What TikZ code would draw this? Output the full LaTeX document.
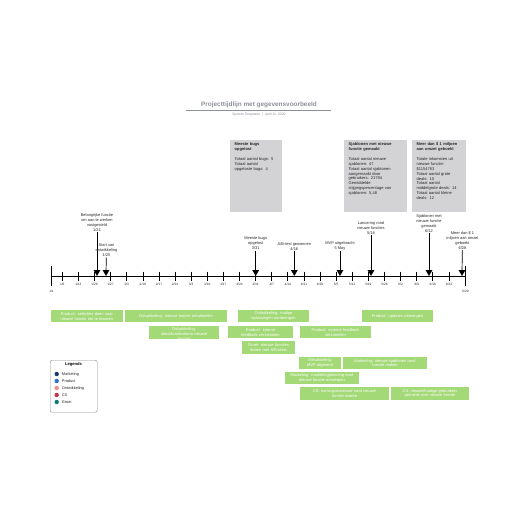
\documentclass[tikz,border=0pt]{standalone}
\usepackage{fontspec}
\setmainfont{Liberation Sans}
\usetikzlibrary{shapes.geometric}
\definecolor{gbarfill}{HTML}{A3D977}
\definecolor{gboxfill}{HTML}{D3D3D6}
\definecolor{titlegray}{HTML}{8C9099}
\definecolor{cmark}{HTML}{1B3A6B}
\definecolor{cprod}{HTML}{2F6FD0}
\definecolor{contw}{HTML}{F28B8B}
\definecolor{ccs}{HTML}{C2334B}
\definecolor{cgroei}{HTML}{0E7C7B}
\begin{document}
\begin{tikzpicture}[x=1pt,y=-1pt,
  lbl/.style={font=\fontsize{3.95}{4.9}\selectfont, align=center, inner sep=0.6pt, text=black!85},
  mk/.style={regular polygon, regular polygon sides=3, shape border rotate=180, fill=black, minimum size=8pt, inner sep=0pt},
  conn/.style={line width=0.7pt, black},
  axisline/.style={line width=0.7pt, black},
  ticklbl/.style={font=\fontsize{3.2}{3.8}\selectfont, inner sep=0pt, text=black!85},
  gbar/.style={fill=gbarfill, draw=none, text=white, align=center, inner sep=0pt, font=\fontsize{4}{4.8}\selectfont},
  gbox/.style={fill=gboxfill, draw=none, anchor=north west, inner sep=0pt},
  gboxtext/.style={anchor=north west, align=left, inner sep=0pt, font=\fontsize{4.05}{4.9}\selectfont, text=black!85},
  legtext/.style={font=\fontsize{3.9}{4.5}\selectfont, anchor=west, inner sep=0pt, text=black!85}
]
\useasboundingbox (0,0) rectangle (516,516);
\fill[white] (0,0) rectangle (516,516);

% Title
\node[font=\bfseries\fontsize{6.4}{7.5}\selectfont, text=titlegray, inner sep=0pt] (title) at (259,104.5) {Projecttijdlijn met gegevensvoorbeeld};
\draw[titlegray, line width=0.8pt] (186,110) -- (331,110);
\node[font=\fontsize{3.4}{4}\selectfont, text=titlegray, inner sep=0pt] (subtitle) at (259,114.5) {System Templates \;|\; April 11, 2020};

% Gray info boxes
\node[gbox, minimum width=52pt, minimum height=72pt] (b1) at (230,140) {};
\node[gboxtext, text width=48pt] (b1t) at (234.5,142.5) {\textbf{Meeste bugs\\opgelost}\\[4.9pt]Totaal aantal bugs: 5\\Totaal aantal\\opgeloste bugs: 4};
\node[gbox, minimum width=63pt, minimum height=72pt] (b2) at (344,140) {};
\node[gboxtext, text width=58pt] (b2t) at (348.5,142.5) {\textbf{Sjablonen met nieuwe\\functie gemaakt}\\[4.9pt]Totaal aantal nieuwe\\sjablonen: 47\\Totaal aantal sjablonen\\aangemaakt door\\gebruikers: 21794\\Gemiddelde\\stijgingspercentage van\\sjablonen: 5,48};
\node[gbox, minimum width=54pt, minimum height=72pt] (b3) at (412,140) {};
\node[gboxtext, text width=54pt] (b3t) at (416.5,142.5) {\textbf{Meer dan \$ 1 miljoen\\aan omzet geboekt}\\[4.9pt]Totale inkomsten uit\\nieuwe functie:\\\$1154763\\Totaal aantal grote\\deals: 10\\Totaal aantal\\middelgrote deals: 14\\Totaal aantal kleine\\deals: 12};

% Axis
\coordinate (axL) at (51,276);
\coordinate (axR) at (465,276);
\draw[axisline] (axL) -- (axR);
\draw[axisline] (51,266) -- (51,286);
\draw[axisline] (465,266) -- (465,286);
\foreach \lab [count=\i from 0, evaluate=\i as \xx using 62.3+16.11*\i] in {1/6,1/13,1/20,1/27,2/3,2/10,2/17,2/24,3/3,3/10,3/17,3/24,3/31,4/7,4/14,4/21,4/28,5/5,5/12,5/19,5/26,6/2,6/9,6/16,6/23}{
  \draw[axisline] (\xx,271.5) -- (\xx,280.5);
  \node[ticklbl] at (\xx,284.8) {\lab};
}
\node[ticklbl] (startlbl) at (51.5,291) {1/1};
\node[ticklbl] (endlbl) at (465.5,291) {6/29};

% Milestones
\node[mk] (m1) at (97,272) {};
\node[lbl, anchor=south] (l1) at (97,232) {Belangrijke functie\\om aan te werken\\vastgesteld\\1/21};
\draw[conn] (l1) -- (m1);
\node[mk] (m2) at (106,272) {};
\node[lbl, anchor=south] (l2) at (106.5,257.5) {Start van\\ontwikkeling\\1/25};
\draw[conn] (l2) -- (m2);
\node[mk] (m3) at (255.7,272) {};
\node[lbl, anchor=south] (l3) at (255.7,250.5) {Meeste bugs\\opgelost\\3/31};
\draw[conn] (l3) -- (m3);
\node[mk] (m4) at (294.3,272) {};
\node[lbl, anchor=south] (l4) at (294.3,251) {A/B-test gewonnen\\4/16};
\draw[conn] (l4) -- (m4);
\node[mk] (m5) at (340,272) {};
\node[lbl, anchor=south] (l5) at (340,251) {MVP uitgebracht\\5 May};
\draw[conn] (l5) -- (m5);
\node[mk] (m6) at (371,272) {};
\node[lbl, anchor=south] (l6) at (371,235) {Lancering rond\\nieuwe functies\\5/18};
\draw[conn] (l6) -- (m6);
\node[mk] (m7) at (429,272) {};
\node[lbl, anchor=south] (l7) at (429,233) {Sjablonen met\\nieuwe functie\\gemaakt\\6/12};
\draw[conn] (l7) -- (m7);
\node[mk] (m8) at (462,272) {};
\node[lbl, anchor=south] (l8) at (462.5,250) {Meer dan \$ 1\\miljoen aan omzet\\geboekt\\6/28};
\draw[conn] (l8) -- (m8);

% Green task bars
\node[gbar, minimum width=72pt, minimum height=12.5pt, text width=70pt] (g1) at (87,316.2) {Product: selecties doen naar\\nieuwe functie om te bouwen};
\node[gbar, minimum width=102pt, minimum height=12.5pt, text width=98pt] (g2) at (176,316.2) {Ontwikkeling: nieuwe functie ontwikkelen};
\node[gbar, minimum width=71pt, minimum height=12.5pt, text width=67pt] (g3) at (273.5,316.2) {Ontwikkeling: nodige\\oplossingen aanbrengen};
\node[gbar, minimum width=71pt, minimum height=12.5pt, text width=67pt] (g4) at (397.5,316.2) {Product: updates uitbrengen};
\begin{scope}
\clip (149,326) rectangle (219,338.5);
\node[gbar, minimum width=70pt, minimum height=16pt, text width=68pt] (g5) at (184,333.8) {Ontwikkeling:\\identificatiecriteria nieuwe\\functie};
\end{scope}
\node[gbar, minimum width=65pt, minimum height=12.5pt, text width=63pt] (g6) at (260.5,332.2) {Product: interne\\feedback verzamelen};
\node[gbar, minimum width=71pt, minimum height=12.5pt, text width=69pt] (g7) at (335.5,332.2) {Product: externe feedback\\verzamelen};
\node[gbar, minimum width=53pt, minimum height=12.5pt, text width=53pt] (g8) at (268.5,347.5) {Groei: nieuwe functies\\testen met A/B-tests};
\node[gbar, minimum width=42pt, minimum height=12.5pt, text width=42pt] (g9) at (320,363) {Ontwikkeling:\\MVP afgerond};
\node[gbar, minimum width=84pt, minimum height=12.5pt, text width=82pt] (g10) at (385,363) {Marketing: nieuwe sjablonen rond\\functie maken};
\node[gbar, minimum width=74pt, minimum height=12.5pt, text width=74pt] (g11) at (322,378.2) {Marketing: marketingplanning rond\\nieuwe functie ontwerpen};
\node[gbar, minimum width=89pt, minimum height=12.5pt, text width=87pt] (g12) at (344.5,393.5) {CS: trainingsmateriaal rond nieuwe\\functie maken};
\node[gbar, minimum width=78pt, minimum height=12.5pt, text width=78pt] (g13) at (430,393.5) {CS: nieuwe/huidige gebruikers\\getraind voor nieuwe functie};

% Legend
\node[draw=black!45, line width=0.4pt, rounded corners=2pt, minimum width=47pt, minimum height=52pt, anchor=north west, inner sep=0pt] (legend) at (50,360) {};
\node[font=\bfseries\fontsize{4.1}{4.8}\selectfont, inner sep=0pt] (legtitle) at (73.5,364.8) {Legends};
\fill[cmark] (56.7,374) circle (2.2);
\node[legtext] (lg1) at (61.7,374) {Marketing};
\fill[cprod] (56.7,381) circle (2.2);
\node[legtext] (lg2) at (61.7,381) {Product};
\fill[contw] (56.7,388) circle (2.2);
\node[legtext] (lg3) at (61.7,388) {Ontwikkeling};
\fill[ccs] (56.7,395) circle (2.2);
\node[legtext] (lg4) at (61.7,395) {CS};
\fill[cgroei] (56.7,402) circle (2.2);
\node[legtext] (lg5) at (61.7,402) {Groei};
\end{tikzpicture}
\end{document}
